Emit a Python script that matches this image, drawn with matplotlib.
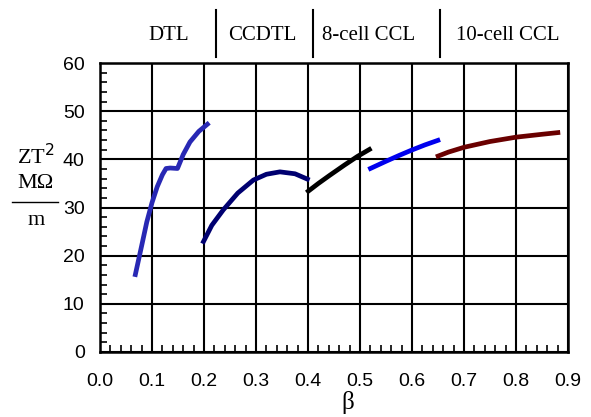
import matplotlib
matplotlib.use("Agg")
import matplotlib.pyplot as plt
from matplotlib.ticker import MultipleLocator

# data (beta, ZT^2 in MOhm/m)
dtl_beta = [0.067, 0.080, 0.090, 0.100, 0.110, 0.120, 0.127, 0.135, 0.149, 0.160, 0.173, 0.190, 0.210]
dtl_zt = [15.6, 22.0, 27.0, 31.0, 34.3, 36.8, 38.1, 38.2, 38.1, 41.0, 43.6, 45.8, 47.6]

ccdtl_beta = [0.197, 0.215, 0.237, 0.265, 0.295, 0.320, 0.346, 0.375, 0.403]
ccdtl_zt = [22.5, 26.3, 29.5, 33.0, 35.7, 36.9, 37.4, 37.0, 35.7]

ccl8_beta = [0.397, 0.420, 0.442, 0.470, 0.495, 0.522]
ccl8_zt = [33.1, 35.0, 36.7, 38.8, 40.6, 42.3]

ccl8b_beta = [0.516, 0.550, 0.575, 0.599, 0.625, 0.654]
ccl8b_zt = [37.9, 39.6, 40.8, 41.9, 43.0, 44.1]

ccl10_beta = [0.646, 0.670, 0.700, 0.750, 0.800, 0.850, 0.885]
ccl10_zt = [40.5, 41.5, 42.5, 43.7, 44.6, 45.2, 45.6]

section_names = ["DTL", "CCDTL", "8-cell CCL", "10-cell CCL"]
section_x = [169, 262, 369, 508]
separator_x = [216, 313, 440]

fig = plt.figure(figsize=(5.91, 4.17), dpi=100)
ax = fig.add_axes([100/591, 65/417, 468/591, 289/417])

for bx, zy, col in [(dtl_beta, dtl_zt, "#2828b4"),
                    (ccdtl_beta, ccdtl_zt, "#000070"),
                    (ccl8_beta, ccl8_zt, "black"),
                    (ccl8b_beta, ccl8b_zt, "#0000ee"),
                    (ccl10_beta, ccl10_zt, "#6a0000")]:
    ax.plot(bx, zy, color=col, lw=3.4, solid_capstyle="butt")

ax.set_xlim(0, 0.9)
ax.set_ylim(0, 60)
ax.xaxis.set_major_locator(MultipleLocator(0.1))
ax.xaxis.set_minor_locator(MultipleLocator(0.02))
ax.yaxis.set_major_locator(MultipleLocator(10))
ax.yaxis.set_minor_locator(MultipleLocator(2))
ax.xaxis.set_major_formatter(matplotlib.ticker.FormatStrFormatter("%.1f"))
ax.grid(True, which="major", color="black", lw=1.5)
ax.tick_params(which="both", direction="in", color="black")
ax.tick_params(which="major", length=0, labelsize=14)
ax.tick_params(axis="x", which="major", pad=15)
ax.tick_params(axis="y", which="major", pad=11)
ax.tick_params(which="minor", length=5, width=1.2)
for lab in ax.get_xticklabels() + ax.get_yticklabels():
    lab.set_family("Liberation Sans")
for s in ax.spines.values():
    s.set_linewidth(1.8)

# axis labels
fig.text(348/591, 1 - 402/417, "β", family="Liberation Serif", fontsize=18,
         ha="center", va="center")
fig.text(36/591, 1 - 157/417, "ZT$^2$", family="Liberation Serif", fontsize=16,
         ha="center", va="center")
fig.text(36/591, 1 - 184/417, "MΩ", family="Liberation Serif", fontsize=16,
         ha="center", va="center")
fig.lines.append(plt.Line2D([12/591, 58/591], [1 - 202/417, 1 - 202/417],
                            transform=fig.transFigure, color="black", lw=1))
fig.text(36/591, 1 - 220/417, "m", family="Liberation Serif", fontsize=16,
         ha="center", va="center")

# section labels on top
for name, x in zip(section_names, section_x):
    fig.text(x/591, 1 - 36/417, name, family="Liberation Serif", fontsize=15,
             ha="center", va="center")
for x in separator_x:
    fig.lines.append(plt.Line2D([x/591, x/591], [1 - 10/417, 1 - 57/417],
                                transform=fig.transFigure, color="black", lw=1.5))

fig.savefig("out.png", dpi=100)
